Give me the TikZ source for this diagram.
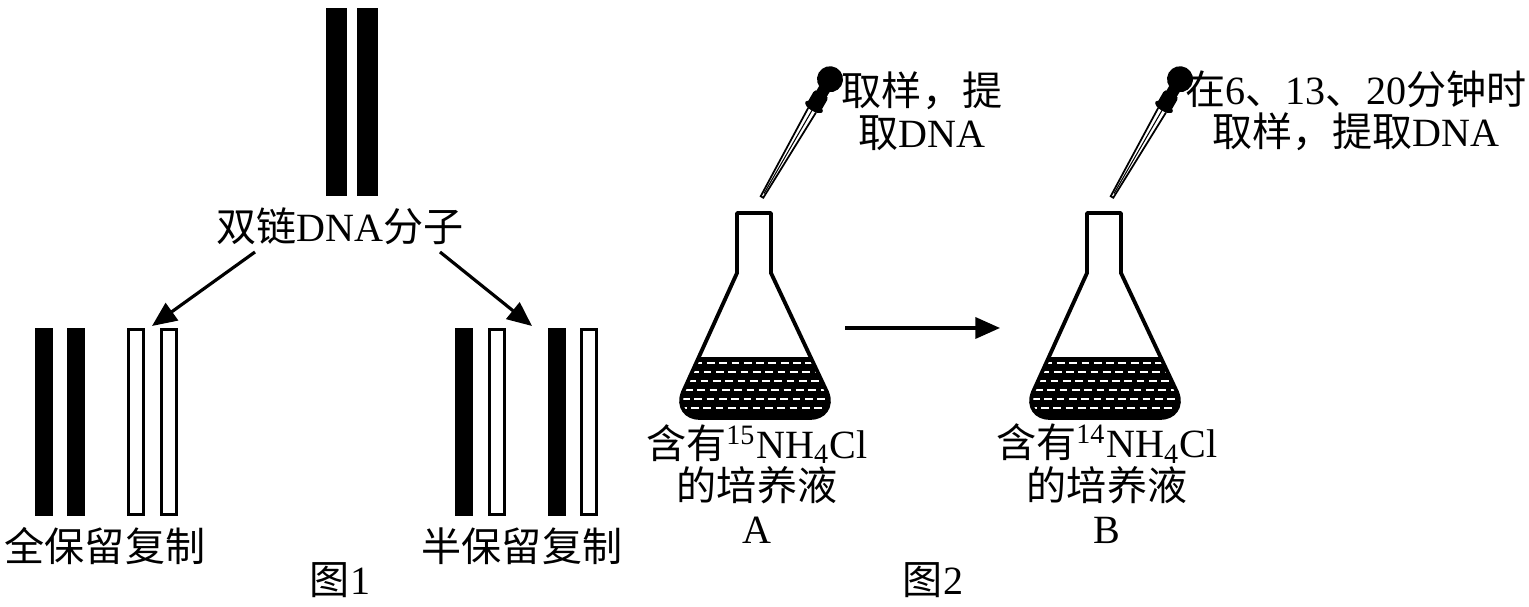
\documentclass[tikz,border=0pt]{standalone}
\usepackage{fontspec}
\setmainfont{Liberation Serif}
\newfontfamily\cjk{Noto Sans CJK SC}
\usetikzlibrary{arrows.meta}
\newcommand{\zh}[1]{{\cjk #1}}

\tikzset{
  heavy/.style={fill=black},
  light/.style={draw=black, line width=0.85pt, fill=white},
  flow/.style={-{Triangle[length=7pt,width=6pt]}, line width=0.9pt},
  txt/.style={inner sep=0pt, font=\fontsize{11.4}{12}\selectfont},
}

\begin{document}
\begin{tikzpicture}[x=0.01cm, y=-0.01cm]
\useasboundingbox (0,0) rectangle (1529,607);

% figure 1
\foreach \x in {326,357} \fill[heavy] (\x,8) rectangle ++(21,188);
\node[txt] (parent) at (340,226) {\zh{双链}DNA\zh{分子}};
\coordinate (splitL) at (255,252);
\coordinate (splitR) at (440,252);

\foreach \x in {35,67} \fill[heavy] (\x,328) rectangle ++(18,188);
\foreach \x in {127,160} \draw[light] (\x+1.5,329.5) rectangle ++(15,185);
\coordinate (cons) at (152,326);
\node[txt] (consname) at (105,546) {\zh{全保留复制}};

\foreach \x in {455,548} \fill[heavy] (\x,328) rectangle ++(18,188);
\foreach \x in {488,580} \draw[light] (\x+1.5,329.5) rectangle ++(15,185);
\coordinate (semi) at (532,326);
\node[txt] (seminame) at (522,546) {\zh{半保留复制}};

\draw[flow] (splitL) -- (cons);
\draw[flow] (splitR) -- (semi);
\node[txt] (fig1) at (340,580) {\zh{图}1};

% figure 2
\foreach \dx/\iso/\lab in {0/15/A,350/14/B} {
  \begin{scope}[shift={(\dx,0)}]
    % medium
    \begin{scope}
      \clip (737,273) -- (683,392) .. controls (677,407) and (686,418) .. (700,418)
        -- (810,418) .. controls (824,418) and (833,407) .. (827,392) -- (771,273) -- cycle;
      \fill (670,357) rectangle (840,420);
      \foreach \r in {0,...,5}
        \draw[white, line width=0.8pt, dash pattern=on 2.2pt off 1.3pt, dash phase=\r*0.9pt]
          (670,363+\r*9) -- (840,363+\r*9);
    \end{scope}
    \draw[line width=1.1pt, line join=round] (737,273) -- (737,213) -- (771,213) -- (771,273)
      -- (827,392) .. controls (833,407) and (824,418) .. (810,418) -- (700,418)
      .. controls (686,418) and (677,407) .. (683,392) -- cycle;
    % dropper
    \begin{scope}[shift={(762,197)}, rotate=-30]
      \draw[line width=0.5pt] (-4.5,-100) -- (-1.5,0) -- (1.5,0) -- (4.5,-100);
      \draw[line width=0.3pt] (0,-4) -- (0,-100);
      \fill[rounded corners=1pt] (-8,-100) rectangle (8,-120);
      \fill (0,-104) ellipse [x radius=10, y radius=4];
      \fill (-6,-118) rectangle (6,-128);
      \fill (0,-136) circle [radius=13];
    \end{scope}
    \node[txt, align=center, font=\fontsize{11.4}{12.2}\selectfont] (medium\lab) at (757,484)
      {\zh{含有}\textsuperscript{\iso}NH\textsubscript{4}Cl\\\zh{的培养液}\\\lab};
  \end{scope}
}

\node[txt, align=center] (stepA) at (922,111) {\zh{取样，提}\\\zh{取}DNA};
\node[txt, align=center] (stepB) at (1356,111) {\zh{在}6\zh{、}13\zh{、}20\zh{分钟时}\\\zh{取样，提取}DNA};
\coordinate (fromA) at (845,328);
\coordinate (toB) at (1000,328);
\draw[flow] (fromA) -- (toB);
\node[txt] (fig2) at (933,580) {\zh{图}2};
\end{tikzpicture}
\end{document}
